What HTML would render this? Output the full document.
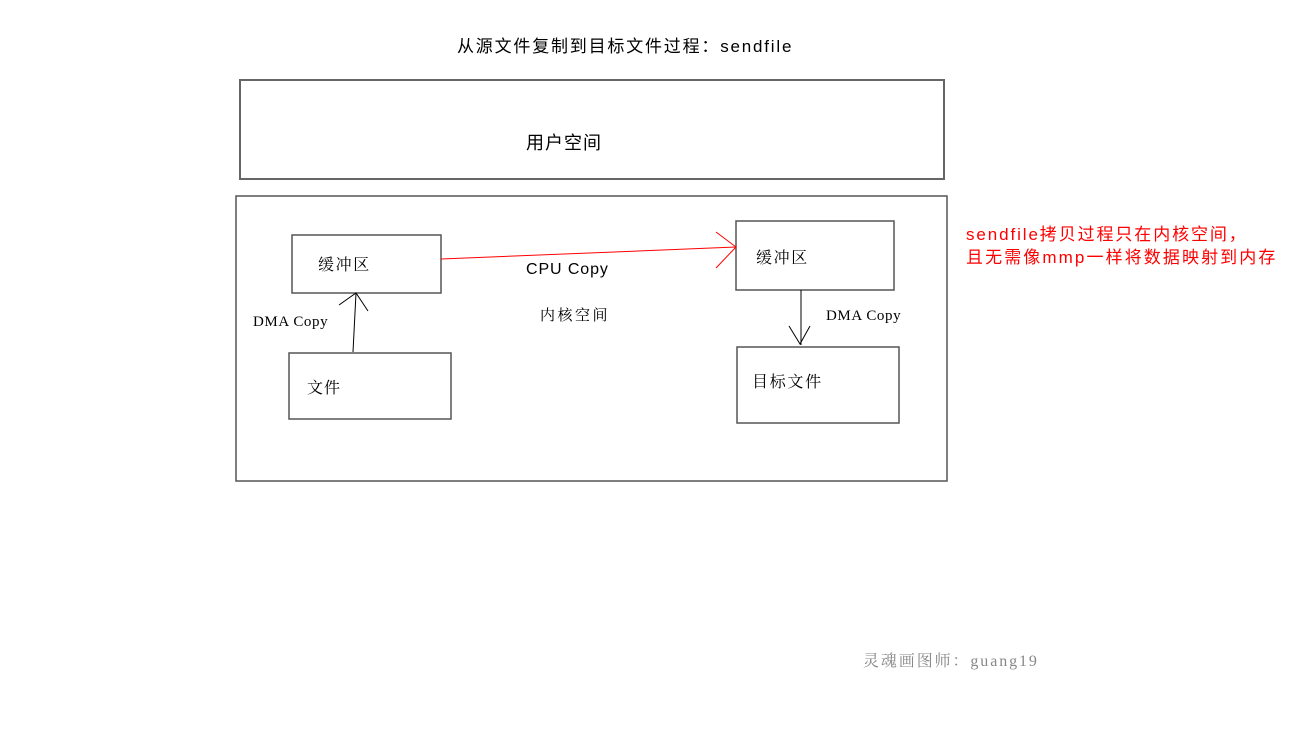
<!DOCTYPE html>
<html><head><meta charset="utf-8"><style>
body{margin:0;width:1293px;height:743px;background:#fff;position:relative;overflow:hidden;font-family:"Liberation Sans","Noto Sans CJK SC",sans-serif;}
.t{position:absolute;white-space:nowrap;color:#000;}
.s{font-family:"Liberation Serif","Noto Serif CJK SC",serif;}
</style></head><body>
<svg width="1293" height="743" style="position:absolute;left:0;top:0">
<g fill="none" stroke="#666" stroke-width="2">
<rect x="240" y="80" width="704" height="99"/>
</g>
<g fill="none" stroke="#555" stroke-width="1.5">
<rect x="236" y="196" width="711" height="285"/>
<rect x="292" y="235" width="149" height="58"/>
<rect x="289" y="353" width="162" height="66"/>
<rect x="736" y="221" width="158" height="69"/>
<rect x="737" y="347" width="162" height="76"/>
</g>
<g stroke="#000" stroke-width="1" fill="none">
<line x1="353" y1="352" x2="356" y2="293"/>
<polyline points="339,305 356,293 368,311"/>
<line x1="801" y1="290" x2="801" y2="345"/>
<polyline points="789,326 800,344 810,326"/>
</g>
<g stroke="#f00" stroke-width="1" fill="none">
<line x1="441" y1="259" x2="736" y2="247"/>
<polyline points="716,232 736,247 716,268"/>
</g>
</svg>
<div class="t" style="left:457px;top:32px;font-size:17px;letter-spacing:1.8px;">从源文件复制到目标文件过程：sendfile</div>
<div class="t" style="left:526px;top:129px;font-size:18px;letter-spacing:1px;">用户空间</div>
<div class="t s" style="left:318px;top:252px;font-size:16px;letter-spacing:1.6px;">缓冲区</div>
<div class="t s" style="left:756px;top:245px;font-size:16px;letter-spacing:1.6px;">缓冲区</div>
<div class="t" style="left:526px;top:261px;font-size:16px;letter-spacing:0.9px;">CPU Copy</div>
<div class="t s" style="left:540px;top:304px;font-size:15px;letter-spacing:2.5px;">内核空间</div>
<div class="t s" style="left:253px;top:314px;font-size:15px;letter-spacing:0.6px;">DMA Copy</div>
<div class="t s" style="left:826px;top:308px;font-size:15px;letter-spacing:0.6px;">DMA Copy</div>
<div class="t s" style="left:307px;top:375px;font-size:16px;letter-spacing:1px;">文件</div>
<div class="t s" style="left:752px;top:369px;font-size:16px;letter-spacing:1.7px;">目标文件</div>
<div class="t" style="left:966px;top:223px;font-size:17px;color:#f00;line-height:23px;letter-spacing:1.9px;">sendfile拷贝过程只在内核空间，<br><span style="letter-spacing:2.1px">且无需像mmp一样将数据映射到内存</span></div>
<div class="t s" style="left:863px;top:648px;font-size:16px;color:#888;letter-spacing:1.9px;">灵魂画图师：guang19</div>
</body></html>
